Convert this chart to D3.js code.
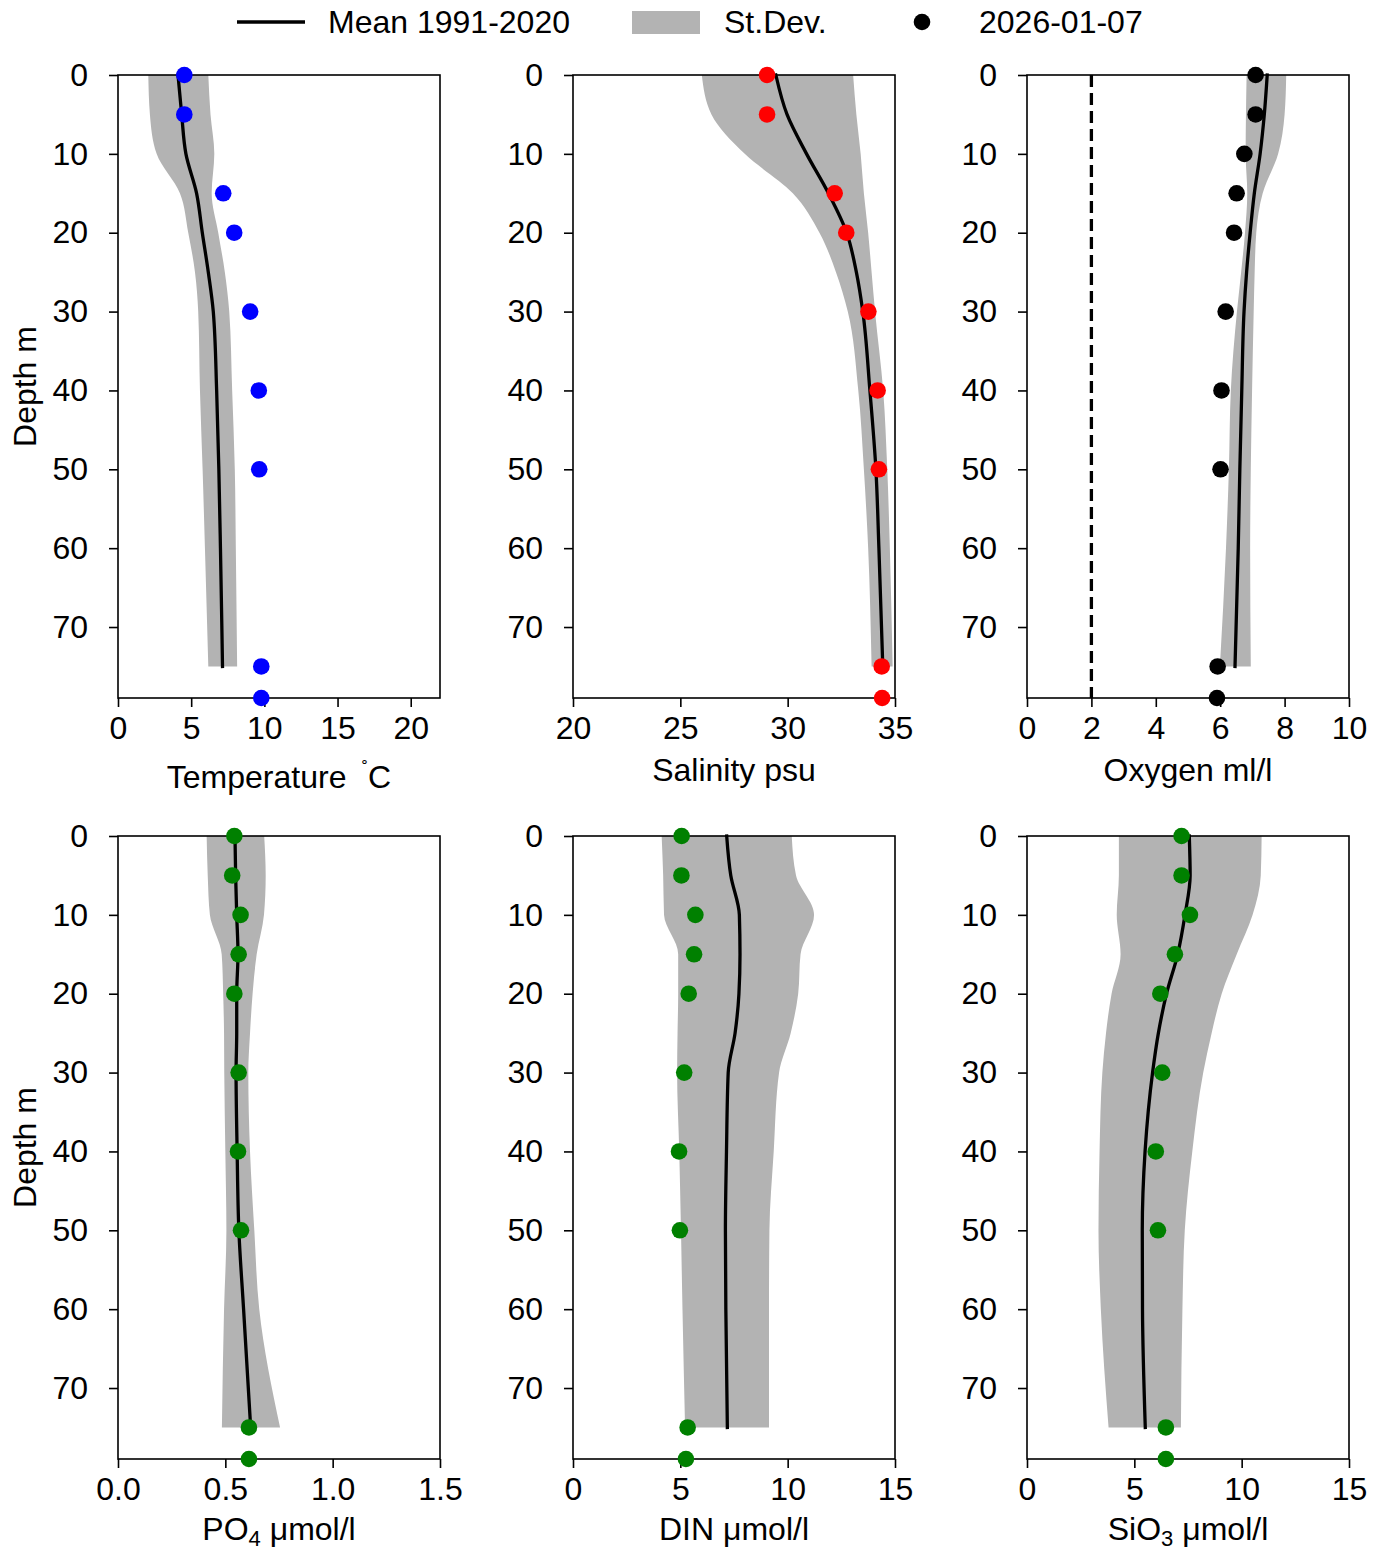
<!DOCTYPE html>
<html>
<head>
<meta charset="utf-8">
<script src="https://cdn.jsdelivr.net/npm/d3@7"></script>
<style>
    body { margin: 0; background: #fff; }
    svg text { font-family: "Liberation Sans", Arial, sans-serif; fill: #000; }
</style>
</head>
<body>
<div id="chart"></div>
<script>
// depth levels of the 1991-2020 climatology and of the sampled profile
const climDepths = [0, 5, 10, 15, 20, 25, 30, 40, 50, 60, 75];
const obsDepths = [0, 5, 10, 15, 20, 30, 40, 50, 75, 79];
const depthTicks = [0, 10, 20, 30, 40, 50, 60, 70];

// temperature
const tempMean = [4.1, 4.35, 4.64, 5.37, 5.76, 6.17, 6.51, 6.74, 6.89, 7.0, 7.14];
const tempLow = [2.07, 2.18, 2.64, 4.23, 4.8, 5.26, 5.48, 5.6, 5.78, 5.94, 6.17];
const tempHigh = [6.17, 6.32, 6.58, 6.4, 6.85, 7.3, 7.6, 7.8, 7.98, 8.05, 8.14];
const tempObs = [4.53, 4.53, null, 7.19, 7.94, 9.03, 9.62, 9.65, 9.79, 9.79];
const tempTicks = [0, 5, 10, 15, 20];

// salinity
const salMean = [29.45, 29.97, 30.88, 31.9, 32.75, 33.2, 33.5, 33.83, 34.11, 34.25, 34.43];
const salLow = [26.0, 26.45, 28.0, 30.24, 31.48, 32.25, 32.8, 33.29, 33.55, 33.75, 33.91];
const salHigh = [33.05, 33.2, 33.4, 33.55, 33.75, 33.91, 34.07, 34.45, 34.64, 34.76, 34.89];
const salObs = [29.04, 29.04, null, 32.19, 32.73, 33.76, 34.19, 34.25, 34.38, 34.4];
const salTicks = [20, 25, 30, 35];

// oxygen
const oxyMean = [7.46, 7.37, 7.24, 7.06, 6.93, 6.82, 6.74, 6.67, 6.61, 6.56, 6.46];
const oxyLow = [6.82, 6.8, 6.79, 6.84, 6.77, 6.65, 6.52, 6.33, 6.27, 6.18, 5.99];
const oxyHigh = [8.05, 8.0, 7.8, 7.32, 7.12, 7.07, 7.04, 6.99, 6.95, 6.93, 6.95];
const oxyObs = [7.1, 7.1, 6.75, 6.51, 6.43, 6.17, 6.04, 6.01, 5.92, 5.9];
const oxyTicks = [0, 2, 4, 6, 8, 10];
const oxyLimit = 2;

// phosphate
const po4Mean = [0.545, 0.548, 0.553, 0.559, 0.553, 0.553, 0.55, 0.555, 0.563, 0.585, 0.618];
const po4Low = [0.413, 0.418, 0.428, 0.483, 0.49, 0.494, 0.495, 0.5, 0.505, 0.494, 0.484];
const po4High = [0.681, 0.688, 0.68, 0.646, 0.627, 0.615, 0.607, 0.615, 0.635, 0.658, 0.755];
const po4Obs = [0.542, 0.532, 0.571, 0.562, 0.542, 0.562, 0.559, 0.573, 0.61, 0.61];
const po4Ticks = [0, 0.5, 1.0, 1.5];

// dissolved inorganic nitrogen
const dinMean = [7.16, 7.35, 7.75, 7.78, 7.73, 7.55, 7.23, 7.15, 7.1, 7.12, 7.19];
const dinLow = [4.13, 4.2, 4.24, 4.9, 4.9, 4.87, 4.85, 4.95, 5.03, 5.1, 5.22];
const dinHigh = [10.19, 10.39, 11.23, 10.6, 10.49, 10.14, 9.6, 9.35, 9.15, 9.13, 9.13];
const dinObs = [5.06, 5.05, 5.7, 5.64, 5.39, 5.18, 4.94, 4.98, 5.34, 5.26];
const dinTicks = [0, 5, 10, 15];

// silicate
const sioMean = [7.56, 7.6, 7.36, 7.02, 6.5, 6.12, 5.85, 5.5, 5.37, 5.38, 5.51];
const sioLow = [4.28, 4.28, 4.18, 4.36, 3.94, 3.68, 3.51, 3.38, 3.33, 3.44, 3.8];
const sioHigh = [10.93, 10.89, 10.51, 9.77, 9.07, 8.6, 8.21, 7.7, 7.35, 7.24, 7.17];
const sioObs = [7.2, 7.2, 7.59, 6.89, 6.21, 6.3, 6.0, 6.1, 6.47, 6.47];
const sioTicks = [0, 5, 10, 15];

const legendLabels = ['Mean 1991-2020', 'St.Dev.', '2026-01-07'];

const W = 1382, H = 1551;
const bandColor = '#b3b3b3';
const fontSize = 32;

const svg = d3.select('#chart').append('svg')
    .attr('width', W)
    .attr('height', H);

const cols = [118, 573, 1027];
const rows = [{top: 75, bottom: 698, labelY: 781}, {top: 836, bottom: 1459, labelY: 1540}];
const panelW = 322;

const panels = [
    {mean: tempMean, low: tempLow, high: tempHigh, obs: tempObs, domain: [0, 22], ticks: tempTicks, fmt: d3.format('d'), color: '#0000ff', label: 'temp'},
    {mean: salMean, low: salLow, high: salHigh, obs: salObs, domain: [20, 35], ticks: salTicks, fmt: d3.format('d'), color: '#ff0000', label: 'sal'},
    {mean: oxyMean, low: oxyLow, high: oxyHigh, obs: oxyObs, domain: [0, 10], ticks: oxyTicks, fmt: d3.format('d'), color: '#000000', label: 'oxy', limit: oxyLimit},
    {mean: po4Mean, low: po4Low, high: po4High, obs: po4Obs, domain: [0, 1.5], ticks: po4Ticks, fmt: d3.format('.1f'), color: '#008000', label: 'po4'},
    {mean: dinMean, low: dinLow, high: dinHigh, obs: dinObs, domain: [0, 15], ticks: dinTicks, fmt: d3.format('d'), color: '#008000', label: 'din'},
    {mean: sioMean, low: sioLow, high: sioHigh, obs: sioObs, domain: [0, 15], ticks: sioTicks, fmt: d3.format('d'), color: '#008000', label: 'sio'}
];

function drawPanel(p, i) {
    let row = rows[Math.floor(i / 3)];
    let left = cols[i % 3];
    let x = d3.scaleLinear().domain(p.domain).range([left, left + panelW]);
    let y = d3.scaleLinear().domain([0, 79]).range([row.top, row.bottom]);
    let g = svg.append('g').attr('class', 'panel-' + p.label);

    let clim = climDepths.map(function (d, k) {
        return {depth: d, mean: p.mean[k], low: p.low[k], high: p.high[k]};
    });

    let area = d3.area()
        .curve(d3.curveMonotoneY)
        .y(function (d) { return y(d.depth); })
        .x0(function (d) { return x(d.low); })
        .x1(function (d) { return x(d.high); });

    g.append('path')
        .datum(clim)
        .attr('d', area)
        .attr('fill', bandColor);

    let line = d3.line()
        .curve(d3.curveMonotoneY)
        .y(function (d) { return y(d.depth); })
        .x(function (d) { return x(d.mean); });

    g.append('path')
        .datum(clim)
        .attr('d', line)
        .attr('fill', 'none')
        .attr('stroke', '#000')
        .attr('stroke-width', 3.3)
        .attr('stroke-linecap', 'square');

    if (p.limit !== undefined) {
        g.append('line')
            .attr('x1', x(p.limit)).attr('x2', x(p.limit))
            .attr('y1', y(0)).attr('y2', y(79))
            .attr('stroke', '#000')
            .attr('stroke-width', 3.3)
            .attr('stroke-dasharray', '12,6');
    }

    // axes
    let xAxis = d3.axisBottom(x).tickValues(p.ticks).tickFormat(p.fmt).tickSizeOuter(0).tickSize(9).tickPadding(10);
    let yAxis = d3.axisLeft(y).tickValues(depthTicks).tickFormat(d3.format('d')).tickSizeOuter(0).tickSize(9).tickPadding(21);

    let gx = g.append('g').attr('transform', 'translate(0,' + row.bottom + ')').call(xAxis);
    let gy = g.append('g').attr('transform', 'translate(' + left + ',0)').call(yAxis);
    [gx, gy].forEach(function (ax) {
        ax.select('.domain').remove();
        ax.selectAll('line').attr('stroke', '#000').attr('stroke-width', 1.6);
        ax.selectAll('text').attr('font-size', fontSize).attr('font-family', '"Liberation Sans", Arial, sans-serif').attr('fill', '#000');
    });
    gx.selectAll('text').attr('dy', '0.68em');

    g.append('rect')
        .attr('x', left).attr('y', row.top)
        .attr('width', panelW).attr('height', row.bottom - row.top)
        .attr('fill', 'none')
        .attr('stroke', '#000')
        .attr('stroke-width', 1.6);

    // sampled profile
    let obs = obsDepths.map(function (d, k) {
        return {depth: d, value: p.obs[k]};
    }).filter(function (d) { return d.value !== null; });

    g.selectAll('circle.obs')
        .data(obs)
        .enter()
        .append('circle')
        .attr('class', 'obs')
        .attr('cx', function (d) { return x(d.value); })
        .attr('cy', function (d) { return y(d.depth); })
        .attr('r', 8.3)
        .attr('fill', p.color);

    // x label
    let cx = left + panelW / 2;
    let t = g.append('text')
        .attr('x', cx)
        .attr('text-anchor', 'middle')
        .attr('font-size', fontSize);

    if (p.label === 'temp') {
        t.attr('y', row.labelY + 7);
        t.append('tspan').text('Temperature \u2009');
        t.append('tspan').attr('font-size', 19).attr('dy', -13).text('\u02da');
        t.append('tspan').attr('dy', 13).text('C');
    } else if (p.label === 'sal') {
        t.attr('y', row.labelY).text('Salinity psu');
    } else if (p.label === 'oxy') {
        t.attr('y', row.labelY).text('Oxygen ml/l');
    } else if (p.label === 'po4') {
        t.attr('y', row.labelY);
        t.append('tspan').text('PO');
        t.append('tspan').attr('font-size', 22).attr('dy', 6).text('4');
        t.append('tspan').attr('dy', -6).text(' \u03bcmol/l');
    } else if (p.label === 'din') {
        t.attr('y', row.labelY).text('DIN \u03bcmol/l');
    } else {
        t.attr('y', row.labelY);
        t.append('tspan').text('SiO');
        t.append('tspan').attr('font-size', 22).attr('dy', 6).text('3');
        t.append('tspan').attr('dy', -6).text(' \u03bcmol/l');
    }

    if (i % 3 === 0) {
        svg.append('text')
            .attr('transform', 'translate(36,' + ((row.top + row.bottom) / 2) + ') rotate(-90)')
            .attr('text-anchor', 'middle')
            .attr('font-size', fontSize)
            .text('Depth m');
    }
}

panels.forEach(drawPanel);

// legend
let lg = svg.append('g').attr('class', 'legend');
lg.append('line')
    .attr('x1', 237).attr('x2', 305)
    .attr('y1', 22).attr('y2', 22)
    .attr('stroke', '#000').attr('stroke-width', 3.3);
lg.append('text').attr('x', 328).attr('y', 33).attr('font-size', fontSize).text(legendLabels[0]);
lg.append('rect')
    .attr('x', 632).attr('y', 11)
    .attr('width', 68).attr('height', 23)
    .attr('fill', bandColor);
lg.append('text').attr('x', 724).attr('y', 33).attr('font-size', fontSize).text(legendLabels[1]);
lg.append('circle').attr('cx', 922).attr('cy', 22).attr('r', 8.3).attr('fill', '#000');
lg.append('text').attr('x', 979).attr('y', 33).attr('font-size', fontSize).text(legendLabels[2]);
</script>
</body>
</html>
